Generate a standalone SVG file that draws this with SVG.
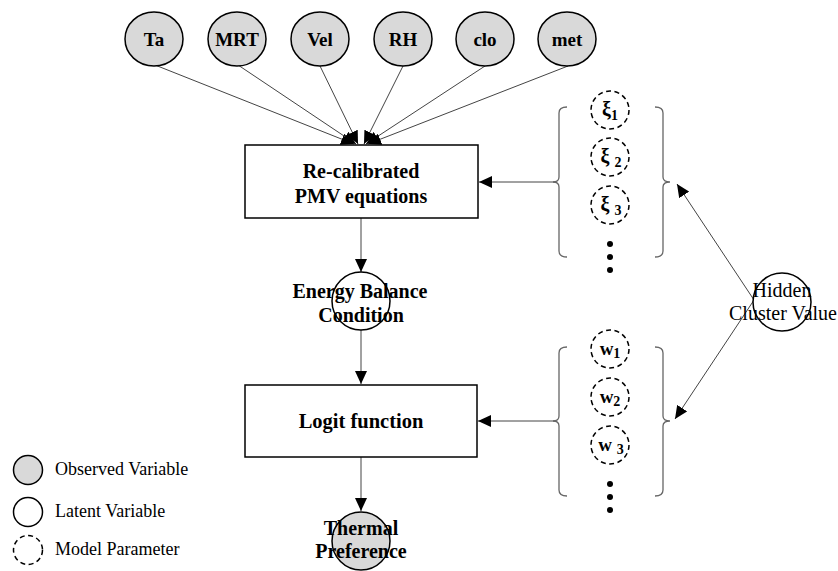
<svg xmlns="http://www.w3.org/2000/svg" width="838" height="571" viewBox="0 0 838 571">
<style>
.obs{fill:#d9d9d9;stroke:#000;stroke-width:1.5}
.lat{fill:#fff;stroke:#000;stroke-width:1.5}
.par{fill:none;stroke:#000;stroke-width:1.5;stroke-dasharray:5 3.5}
.box{fill:#fff;stroke:#000;stroke-width:1.5}
.b{font-family:"Liberation Serif","Times New Roman",serif;font-weight:bold;fill:#000;text-anchor:middle}
.n{font-family:"Liberation Serif","Times New Roman",serif;fill:#000}
.c{stroke:#444;stroke-width:1;fill:none}
.br{stroke:#666;stroke-width:1.3;fill:none}
</style>
<defs>
<marker id="ah" markerUnits="userSpaceOnUse" markerWidth="14" markerHeight="12" refX="13" refY="6" orient="auto">
<path d="M0,0 L13,6 L0,12 Z" fill="#000"/>
</marker>
</defs>
<rect width="838" height="571" fill="#fff"/>
<g id="connectors">
<line class="c" x1="155" y1="65" x2="354" y2="144" marker-end="url(#ah)"/>
<line class="c" x1="238" y1="65" x2="356" y2="144" marker-end="url(#ah)"/>
<line class="c" x1="320" y1="66" x2="358" y2="144" marker-end="url(#ah)"/>
<line class="c" x1="403" y1="66" x2="364" y2="144" marker-end="url(#ah)"/>
<line class="c" x1="485" y1="66" x2="366" y2="144" marker-end="url(#ah)"/>
<line class="c" x1="568" y1="66" x2="368" y2="144" marker-end="url(#ah)"/>
<line class="c" x1="361" y1="218" x2="361" y2="272" marker-end="url(#ah)"/>
<line class="c" x1="361" y1="330" x2="361" y2="384" marker-end="url(#ah)"/>
<line class="c" x1="361" y1="457" x2="361" y2="511" marker-end="url(#ah)"/>
<line class="c" x1="555" y1="182" x2="479" y2="182" marker-end="url(#ah)"/>
<line class="c" x1="555" y1="421" x2="478" y2="421" marker-end="url(#ah)"/>
<line class="c" x1="754" y1="300" x2="677" y2="184" marker-end="url(#ah)"/>
<line class="c" x1="754" y1="300" x2="675" y2="419" marker-end="url(#ah)"/>
</g>
<g id="Ta"><ellipse class="obs" cx="154" cy="39" rx="29" ry="27"/><text class="b" x="154" y="46" font-size="19">Ta</text></g>
<g id="MRT"><ellipse class="obs" cx="237" cy="39" rx="29" ry="27"/><text class="b" x="237" y="46" font-size="19">MRT</text></g>
<g id="Vel"><ellipse class="obs" cx="320" cy="39" rx="29" ry="27"/><text class="b" x="320" y="46" font-size="19">Vel</text></g>
<g id="RH"><ellipse class="obs" cx="403" cy="39" rx="29" ry="27"/><text class="b" x="403" y="46" font-size="19">RH</text></g>
<g id="clo"><ellipse class="obs" cx="485" cy="39" rx="29" ry="27"/><text class="b" x="485" y="46" font-size="19">clo</text></g>
<g id="met"><ellipse class="obs" cx="567" cy="39" rx="29" ry="27"/><text class="b" x="567" y="46" font-size="19">met</text></g>
<g id="pmv"><rect class="box" x="245" y="145" width="233" height="73"/>
<text class="b" x="361" y="178" font-size="20">Re-calibrated</text>
<text class="b" x="361" y="203" font-size="20">PMV equations</text></g>
<g id="energy"><circle class="lat" cx="361" cy="301" r="29"/>
<text class="b" x="360" y="298" font-size="20">Energy Balance</text>
<text class="b" x="361" y="322" font-size="20">Condition</text></g>
<g id="logit"><rect class="box" x="245" y="385" width="232" height="72"/>
<text class="b" x="361" y="428" font-size="20.5">Logit function</text></g>
<g id="thermal"><circle class="obs" cx="361" cy="541" r="29"/>
<text class="b" x="361" y="535" font-size="20">Thermal</text>
<text class="b" x="361" y="558" font-size="20">Preference</text></g>
<g id="hidden"><circle class="lat" cx="782" cy="302" r="29"/>
<text class="n" x="782" y="297" font-size="20" text-anchor="middle">Hidden</text>
<text class="n" x="783" y="320" font-size="20" text-anchor="middle">Cluster Value</text></g>
<g id="xi-group">
<path class="br" d="M567,107 Q559,107 559,113 L559,177 Q559,182 553,182 Q559,182 559,187 L559,251 Q559,257 567,257"/>
<path class="br" d="M655,107 Q663,107 663,113 L663,177 Q663,182 670,182 Q663,182 663,187 L663,251 Q663,257 655,257"/>
<g id="xi1"><circle class="par" cx="610" cy="110" r="19"/><text class="b" x="610" y="116" font-size="20">ξ<tspan font-size="14" dy="4">1</tspan></text></g>
<g id="xi2"><circle class="par" cx="610" cy="157" r="19"/><text class="b" x="611" y="163" font-size="20">ξ <tspan font-size="14" dy="4">2</tspan></text></g>
<g id="xi3"><circle class="par" cx="610" cy="205" r="19"/><text class="b" x="611" y="211" font-size="20">ξ <tspan font-size="14" dy="4">3</tspan></text></g>
<circle cx="610" cy="244" r="3" fill="#000"/><circle cx="610" cy="257" r="3" fill="#000"/><circle cx="610" cy="270" r="3" fill="#000"/>
</g>
<g id="w-group">
<path class="br" d="M567,347 Q559,347 559,353 L559,416 Q559,421 553,421 Q559,421 559,426 L559,490 Q559,496 567,496"/>
<path class="br" d="M655,347 Q663,347 663,353 L663,416 Q663,421 670,421 Q663,421 663,426 L663,490 Q663,496 655,496"/>
<g id="w1"><circle class="par" cx="610" cy="349" r="19"/><text class="b" x="610" y="355" font-size="19">w<tspan font-size="14" dy="3">1</tspan></text></g>
<g id="w2"><circle class="par" cx="610" cy="397" r="19"/><text class="b" x="610" y="403" font-size="19">w<tspan font-size="14" dy="3">2</tspan></text></g>
<g id="w3"><circle class="par" cx="610" cy="445" r="19"/><text class="b" x="611" y="451" font-size="19">w <tspan font-size="14" dy="3">3</tspan></text></g>
<circle cx="610" cy="484" r="3" fill="#000"/><circle cx="610" cy="497" r="3" fill="#000"/><circle cx="610" cy="510" r="3" fill="#000"/>
</g>
<g id="legend">
<circle class="obs" cx="28" cy="470" r="14.5"/><text class="n" x="55" y="475" font-size="18">Observed Variable</text>
<circle class="lat" cx="28" cy="512" r="14.5"/><text class="n" x="55" y="517" font-size="18">Latent Variable</text>
<circle class="par" cx="28" cy="550" r="14.5" stroke-dasharray="4 3"/><text class="n" x="55" y="555" font-size="18">Model Parameter</text>
</g>
</svg>
